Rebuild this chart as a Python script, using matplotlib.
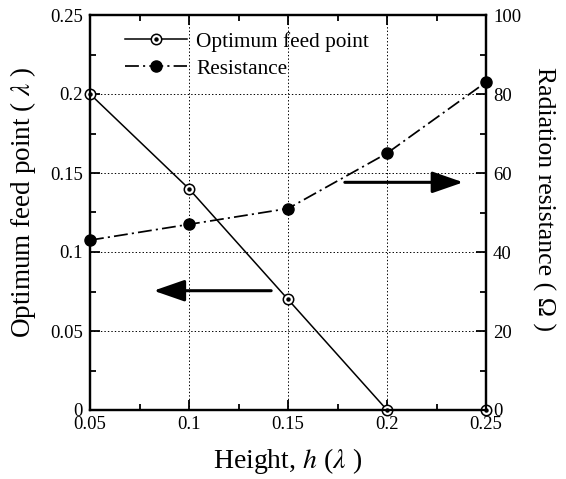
import matplotlib
matplotlib.use("Agg")
import matplotlib.pyplot as plt
from matplotlib.ticker import MultipleLocator
from matplotlib.legend_handler import HandlerTuple
from matplotlib.patches import FancyArrowPatch

plt.rcParams['font.family'] = ['Liberation Serif', 'DejaVu Serif']
plt.rcParams['mathtext.fontset'] = 'stix'
plt.rcParams['lines.scale_dashes'] = False

height = [0.05, 0.10, 0.15, 0.20, 0.25]
feed_point = [0.20, 0.14, 0.07, 0.0, 0.0]
resistance = [43, 47, 51, 65, 83]

fig = plt.figure(figsize=(5.66, 4.79), dpi=100)
ax = fig.add_axes([90/566, 1-410/479, 396/566, 395/479])
ax2 = ax.twinx()

# feed point line
l1, = ax.plot(height, feed_point, color='k', lw=1.1, marker='o', ms=7.5,
              mfc='white', mec='k', mew=1.1, zorder=5, clip_on=False)
d1, = ax.plot(height, feed_point, ls='none', marker='o', ms=2.2, color='k',
              zorder=6, clip_on=False)

# resistance line
l2, = ax2.plot(height, resistance, color='k', lw=1.25, dashes=(10, 3, 1.5, 3),
               marker='o', ms=8, mfc='k', mec='k', zorder=5, clip_on=False)

ax.set_xlim(0.05, 0.25)
ax.set_ylim(0, 0.25)
ax2.set_ylim(0, 100)

ax.xaxis.set_minor_locator(MultipleLocator(0.025))
ax.yaxis.set_minor_locator(MultipleLocator(0.025))
ax2.yaxis.set_minor_locator(MultipleLocator(10))

ax.set_xticks([0.05, 0.1, 0.15, 0.2, 0.25])
ax.set_xticklabels(['0.05', '0.1', '0.15', '0.2', '0.25'])
ax.set_yticks([0, 0.05, 0.1, 0.15, 0.2, 0.25])
ax.set_yticklabels(['0', '0.05', '0.1', '0.15', '0.2', '0.25'])
ax2.set_yticks([0, 20, 40, 60, 80, 100])
ax2.set_yticklabels(['0', '20', '40', '60', '80', '100'])

ax.tick_params(axis='x', which='both', direction='in', top=True, labelsize=13.5, pad=4)
ax.tick_params(axis='y', which='both', direction='in', left=True, right=False, labelsize=13.5, pad=5)
ax.tick_params(which='major', length=7, width=1.3)
ax.tick_params(which='minor', length=4.5, width=1.3)
ax2.tick_params(axis='y', which='both', direction='in', labelsize=13.5, pad=5)
ax2.tick_params(which='major', length=7, width=1.3)
ax2.tick_params(which='minor', length=4.5, width=1.3)

for a in (ax, ax2):
    for s in a.spines.values():
        s.set_linewidth(1.6)

ax.grid(True, which='major', ls=(0, (1, 1.5)), color='k', lw=0.7)
ax.set_axisbelow(True)

ax.set_xlabel(r'Height, $h$ ($\lambda$ )', fontsize=20)
ax.xaxis.set_label_coords(0.5, -0.13)
ax.set_ylabel(r'Optimum feed point ( $\lambda$ )', fontsize=19.5)
ax.yaxis.set_label_coords(-0.17, 0.525)
ax2.set_ylabel('Radiation resistance ( Ω )', fontsize=18.5, rotation=270)
ax2.yaxis.set_label_coords(1.145, 0.535)
ax2.yaxis.label.set_va('center')
ax.yaxis.label.set_va('center')
ax.xaxis.label.set_va('center')

# arrows
for tail, tip in [((0.1429, 0.0755), (0.0807, 0.0755)), ((0.1773, 0.1441), (0.2399, 0.1441))]:
    arr = FancyArrowPatch(tail, tip, arrowstyle='-|>,head_length=0.95,head_width=0.33',
                          mutation_scale=20, lw=2.2, color='k', zorder=7)
    ax.add_patch(arr)

ax2.legend([(l1, d1), l2], ['Optimum feed point', 'Resistance'],
           handler_map={tuple: HandlerTuple(ndivide=1)},
           loc='upper left', bbox_to_anchor=(0.052, 0.995), frameon=False,
           fontsize=15.3, handlelength=2.9, handletextpad=0.42, labelspacing=0.33,
           borderaxespad=0.3)

fig.savefig('out.png', dpi=100)
